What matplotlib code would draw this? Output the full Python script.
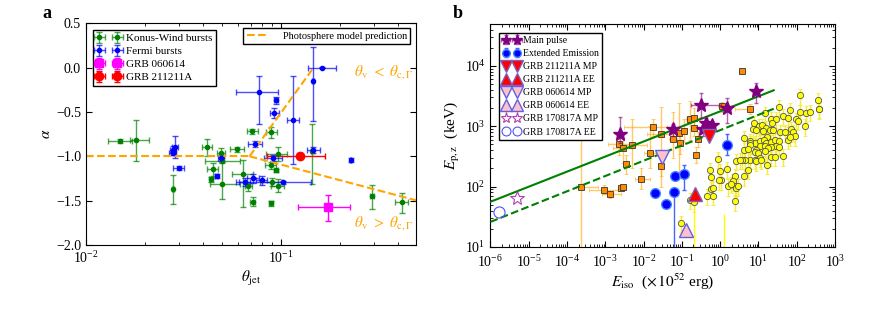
import numpy as np
import matplotlib
matplotlib.use("Agg")
import matplotlib.pyplot as plt
from matplotlib.ticker import LogLocator, MultipleLocator, NullFormatter

plt.rcParams['font.family'] = ['Liberation Serif', 'DejaVu Serif']
plt.rcParams['mathtext.fontset'] = 'stix'
plt.rcParams['xtick.direction'] = 'in'
plt.rcParams['ytick.direction'] = 'in'
plt.rcParams['xtick.top'] = True
plt.rcParams['ytick.right'] = True

# ---------------- panel a data ----------------
# Konus-Wind bursts: theta, alpha, theta err (lo, hi), alpha err (lo, hi)
kw_theta = [0.0149, 0.0180, 0.0279, 0.0416, 0.049, 0.0597, 0.0713, 0.0889, 0.0446, 0.0497,
            0.0439, 0.0641, 0.068, 0.0716, 0.0885, 0.0962, 0.0885, 0.0943, 0.0896, 0.0962,
            0.145, 0.2937, 0.419, 0.050]
kw_alpha = [-0.83, -0.82, -1.37, -0.90, -0.96, -0.92, -0.72, -0.73, -1.14, -1.31,
            -1.26, -1.20, -1.34, -1.51, -1.53, -0.97, -1.10, -1.16, -1.29, -1.33,
            -0.94, -1.45, -1.52, -1.05]
kw_theta_lo = [0.0019, 0.0011, 0.0003, 0.0022, 0.0022, 0.005, 0.004, 0.005, 0.0027, 0.0064,
               0.001, 0.0083, 0.003, 0.002, 0.002, 0.012, 0.006, 0.002, 0.012, 0.007,
               0.003, 0.006, 0.037, 0.009]
kw_theta_hi = [0.0023, 0.0031, 0.0003, 0.0025, 0.0026, 0.005, 0.005, 0.006, 0.0031, 0.012,
               0.001, 0.008, 0.003, 0.002, 0.002, 0.011, 0.006, 0.002, 0.012, 0.008,
               0.003, 0.006, 0.030, 0.012]
kw_alpha_lo = [0.02, 0.23, 0.17, 0.10, 0.05, 0.03, 0.03, 0.06, 0.08, 0.17,
               0.03, 0.37, 0.05, 0.05, 0.03, 0.08, 0.04, 0.02, 0.05, 0.07,
               0.37, 0.14, 0.12, 0.03]
kw_alpha_hi = [0.02, 0.23, 0.16, 0.09, 0.05, 0.03, 0.03, 0.06, 0.07, 0.25,
               0.03, 0.16, 0.04, 0.05, 0.03, 0.07, 0.04, 0.02, 0.05, 0.07,
               0.30, 0.13, 0.11, 0.03]

# Fermi bursts
fe_theta = [0.028, 0.0285, 0.0278, 0.030, 0.0493, 0.0468, 0.0736, 0.0775, 0.0943, 0.0924,
            0.1618, 0.146, 0.1148, 0.146, 0.0912, 0.102, 0.0652, 0.0719, 0.0795, 0.2274]
fe_alpha = [-0.93, -0.90, -0.96, -1.13, -1.02, -1.22, -0.86, -0.28, -0.37, -0.51,
            0.0, -0.15, -0.59, -0.93, -1.02, -1.295, -1.29, -1.25, -1.27, -1.04]
fe_theta_lo = [0.001, 0.001, 0.001, 0.002, 0.002, 0.001, 0.006, 0.0186, 0.002, 0.005,
               0.025, 0.002, 0.008, 0.010, 0.009, 0.043, 0.004, 0.005, 0.005, 0.002]
fe_theta_hi = [0.001, 0.001, 0.001, 0.002, 0.002, 0.001, 0.0064, 0.019, 0.002, 0.005,
               0.030, 0.002, 0.009, 0.013, 0.010, 0.041, 0.004, 0.005, 0.005, 0.002]
fe_alpha_lo = [0.05, 0.12, 0.03, 0.02, 0.03, 0.02, 0.03, 0.36, 0.04, 0.06,
               0.01, 0.45, 0.50, 0.03, 0.03, 0.02, 0.04, 0.05, 0.05, 0.02]
fe_alpha_hi = [0.05, 0.13, 0.03, 0.02, 0.03, 0.02, 0.03, 0.18, 0.04, 0.05,
               0.01, 0.38, 0.50, 0.03, 0.03, 0.02, 0.04, 0.05, 0.05, 0.02]

grb060614_theta, grb060614_alpha = [0.175], [-1.577]
grb060614_theta_err = [[0.053], [0.052]]
grb060614_alpha_err = [[0.147], [0.143]]
grb211211_theta, grb211211_alpha = [0.125], [-1.0]
grb211211_theta_err = [[0.0405], [0.0438]]
grb211211_alpha_err = [[0.03], [0.03]]

# photosphere model prediction
photo_flat_theta, photo_flat_alpha = [0.01, 0.069], [-1.0, -1.0]
photo_up_theta, photo_up_alpha = [0.069, 0.147], [-1.0, 0.0]
photo_down_theta, photo_down_alpha = [0.069, 0.5], [-1.0, -1.5]

# ---------------- panel b data ----------------
mp_E = [2.35e-3, 0.058, 0.31, 0.436, 0.356, 0.625, 1.51, 8.8]
mp_Ep = [755, 885, 2245, 1143, 885, 1030, 1976, 3840]
mp_E_lo = [2.2e-3, 0.05, 0.177, 0.39, 0.32, 0.56, 1.2, 7.5]
mp_E_hi = [2.5e-3, 0.066, 1.08, 0.49, 0.40, 0.70, 1.9, 10.0]
mp_Ep_lo = [531, 700, 1380, 950, 700, 850, 1120, 2460]
mp_Ep_hi = [1435, 1100, 3600, 1350, 1050, 1200, 2950, 5280]

ee_E = [0.0195, 0.0394, 0.0622, 0.0676, 0.1135, 1.51]
ee_Ep = [78, 52, 80, 152, 162, 498]
ee_Ep_lo = [78, 52, 8, 152, 89, 340]
ee_Ep_hi = [78, 52, 80, 152, 231, 731]

sq_E = [2.38e-4, 9.3e-4, 1.33e-3, 2.63e-3, 2.97e-3, 2.3e-3, 2.9e-3, 3.4e-3, 5.1e-3, 8.75e-3,
        0.0151, 0.018, 0.0292, 0.0292, 0.0588, 0.0826, 0.0914, 0.114, 0.163, 0.208,
        0.204, 0.23, 0.27, 1.1, 3.65, 6.0]
sq_Ep = [97, 88, 74, 95, 97, 500, 432, 237, 485, 134,
         357, 955, 740, 223, 611, 770, 537, 830, 1315, 1365,
         931, 335, 611, 2130, 8380, 1928]
sq_E_lo = [1.7e-4, 3.8e-4, 8e-4, 2.3e-3, 2.6e-3, 1.2e-3, 1.6e-3, 2.9e-3, 2.5e-3, 6e-3,
           0.010, 0.003, 0.012, 0.026, 0.045, 0.07, 0.08, 0.10, 0.13, 0.16,
           0.17, 0.21, 0.24, 0.9, 3.65, 2.4]
sq_E_hi = [6.3e-4, 2.1e-3, 2.5e-3, 3.0e-3, 3.4e-3, 5e-3, 5e-3, 4e-3, 1.2e-2, 1.5e-2,
           0.025, 0.04, 0.06, 0.033, 0.075, 0.10, 0.105, 0.13, 0.2, 0.3,
           0.24, 0.25, 0.30, 1.3, 3.65, 6.5]
sq_Ep_lo = [5, 75, 64, 88, 90, 330, 250, 160, 200, 90,
            200, 700, 100, 150, 300, 170, 350, 550, 600, 900,
            700, 250, 450, 1700, 8380, 1600]
sq_Ep_hi = [900, 105, 85, 105, 107, 780, 650, 330, 1300, 200,
            1000, 1300, 2100, 320, 1700, 2450, 800, 1300, 2600, 2000,
            1200, 450, 800, 2500, 8380, 2300]

yel_E = [0.097, 0.160, 0.204, 0.463, 0.652, 0.566, 0.652, 0.555, 0.589, 0.879,
         0.97, 1.07, 0.93, 1.54, 1.60,
         120, 360, 382, 34.5, 65.6, 120, 179, 218, 15.2, 21.8,
         28.2, 44, 59.3, 94, 108, 23.1, 7.5, 10.4, 12.7, 16.1,
         7.2, 8.5, 13.2, 19.7, 24, 36, 48.5, 72.5, 80, 88.5,
         59.3, 65.6, 4.13, 6.17, 8.0, 10.8, 5.9, 16.8, 13.7, 16.1,
         21.8, 26.6, 34.5, 29.4, 20.9, 34.5, 6.17, 10.8, 14.6, 17.8,
         8.8, 4.13, 5.36, 8.0, 9.8, 14.6, 11.2, 6.17, 8.0, 4.56,
         3.81, 2.65, 3.24, 8.8, 11.9, 21.8, 26.6, 44, 16.8, 5.36,
         4.13, 2.4, 2.17, 2.4, 1.97, 2.65, 2.4, 3.0, 161, 374]
yel_Ep = [25, 60.5, 54.6, 70.5, 70.5, 91, 94.6, 191, 144, 287,
          184, 127, 127, 196, 101,
          3250, 2690, 1900, 2100, 1850, 1740, 1670, 1720, 1630, 1330,
          1330, 1470, 1380, 1300, 1220, 1140, 1140, 1000, 1030, 942,
          906, 851, 830, 861, 883, 798, 798, 906, 798, 684,
          603, 667, 643, 565, 530, 565, 530, 667, 603, 530,
          543, 587, 565, 479, 455, 455, 498, 479, 467, 438,
          410, 400, 422, 371, 361, 385, 298, 280, 280, 280,
          280, 269, 280, 262, 280, 310, 310, 318, 231, 191,
          148, 148, 122, 101, 112, 95, 56.7, 101, 1000, 1930]
yel_err_frac = 0.3
yel_lim_E = [0.204, 1.24]
yel_lim_top = [54.6, 35]

line_E = [1e-6, 25]
line_Ep_solid = [56, 3950]
line_Ep_dashed = [26, 1950]

special = {
    'GRB 211211A MP': ([0.51], [684]),
    'GRB 211211A EE': ([0.225], [76]),
    'GRB 060614 MP': ([0.031], [310]),
    'GRB 060614 EE': ([0.126], [19]),
    'GRB 170817A MP': ([4.9e-6], [65]),
    'GRB 170817A EE': ([1.65e-6], [38]),
}

fig = plt.figure(figsize=(8.79, 3.09), dpi=100)

# ================= panel a =================
ax1 = fig.add_axes([0.0978, 0.207, 0.375, 0.718])
eb_kw = dict(capsize=2, elinewidth=1, capthick=1, ms=3, lw=0)
h_kw = ax1.errorbar(kw_theta, kw_alpha, xerr=[kw_theta_lo, kw_theta_hi],
                    yerr=[kw_alpha_lo, kw_alpha_hi], fmt='o', color='green',
                    ecolor=(0.0, 0.5, 0.0, 0.7), **eb_kw)
h_fe = ax1.errorbar(fe_theta, fe_alpha, xerr=[fe_theta_lo, fe_theta_hi],
                    yerr=[fe_alpha_lo, fe_alpha_hi], fmt='o', color='blue',
                    ecolor=(0.0, 0.0, 1.0, 0.7), **eb_kw)
h_06 = ax1.errorbar(grb060614_theta, grb060614_alpha, xerr=grb060614_theta_err,
                    yerr=grb060614_alpha_err, fmt='s', color='magenta', capsize=2,
                    elinewidth=1, ms=6)
h_21 = ax1.errorbar(grb211211_theta, grb211211_alpha, xerr=grb211211_theta_err,
                    yerr=grb211211_alpha_err, fmt='o', color='red', capsize=2,
                    elinewidth=1, ms=6)
ph, = ax1.plot(photo_flat_theta, photo_flat_alpha, '--', color='orange', lw=1.5,
               label='Photosphere model prediction')
ax1.plot(photo_up_theta, photo_up_alpha, '--', color='orange', lw=1.5)
ax1.plot(photo_down_theta, photo_down_alpha, '--', color='orange', lw=1.5)

ax1.text(0.236, -0.05, r'$\theta_{\rm v}\ <\ \theta_{\rm c,\Gamma}$', color='orange',
         fontsize=11, ha='left', va='center')
ax1.text(0.236, -1.75, r'$\theta_{\rm v}\ >\ \theta_{\rm c,\Gamma}$', color='orange',
         fontsize=11, ha='left', va='center')

ax1.set_xscale('log')
ax1.set_xlim(0.01, 0.49)
ax1.set_ylim(-2.0, 0.5)
ax1.yaxis.set_major_locator(MultipleLocator(0.5))
ax1.tick_params(which='major', length=4, labelsize=10)
ax1.tick_params(which='minor', length=2)
ax1.tick_params(axis='x', pad=4)
ax1.set_xlabel(r'$\theta_{\rm jet}$', fontsize=11, labelpad=2)
ax1.set_ylabel(r'$\alpha$', fontsize=11, labelpad=2)

leg1 = ax1.legend([h_kw, h_fe, h_06, h_21],
                  ['Konus-Wind bursts', 'Fermi bursts', 'GRB 060614', 'GRB 211211A'],
                  loc='upper left', numpoints=2, fontsize=8, fancybox=False,
                  edgecolor='black', framealpha=1, borderpad=0.3, labelspacing=0.3,
                  handletextpad=0.5, borderaxespad=0.6, handlelength=2.2)
leg1.get_frame().set_linewidth(1.0)
ax1.add_artist(leg1)
leg2 = ax1.legend([ph], ['Photosphere model prediction'], loc='upper right', fontsize=7.5,
                  fancybox=False, edgecolor='black', framealpha=1, borderpad=0.3,
                  handletextpad=1.5, borderaxespad=0.5)
leg2.get_frame().set_linewidth(1.0)

# ================= panel b =================
ax2 = fig.add_axes([0.558, 0.201, 0.392, 0.722])

yel_E_arr = np.array(yel_E)
yel_Ep_arr = np.array(yel_Ep)
ax2.errorbar(yel_E_arr, yel_Ep_arr, yerr=yel_err_frac * yel_Ep_arr, fmt='o',
             mfc='yellow', mec='#555555', mew=0.6, ms=4.5, ecolor='#f5ee30',
             elinewidth=1, capsize=1.5, zorder=2)
ax2.vlines(yel_lim_E, 8, yel_lim_top, color='yellow', lw=1, zorder=1)

sq_E_arr, sq_Ep_arr = np.array(sq_E), np.array(sq_Ep)
ax2.errorbar(sq_E_arr, sq_Ep_arr,
             xerr=[sq_E_arr - np.array(sq_E_lo), np.array(sq_E_hi) - sq_E_arr],
             yerr=[sq_Ep_arr - np.array(sq_Ep_lo), np.array(sq_Ep_hi) - sq_Ep_arr],
             fmt='s', mfc='darkorange', mec='#333333', mew=0.6, ms=4.5,
             ecolor=(1.0, 0.65, 0.0, 0.6), elinewidth=1, capsize=1.5, zorder=3)

mp_E_arr, mp_Ep_arr = np.array(mp_E), np.array(mp_Ep)
h_mp = ax2.errorbar(mp_E_arr, mp_Ep_arr,
                    xerr=[mp_E_arr - np.array(mp_E_lo), np.array(mp_E_hi) - mp_E_arr],
                    yerr=[mp_Ep_arr - np.array(mp_Ep_lo), np.array(mp_Ep_hi) - mp_Ep_arr],
                    fmt='*', color='purple', ms=10, ecolor=(0.5, 0.0, 0.5, 0.6),
                    elinewidth=1, capsize=1.5, zorder=5)

ee_E_arr, ee_Ep_arr = np.array(ee_E), np.array(ee_Ep)
h_ee = ax2.errorbar(ee_E_arr, ee_Ep_arr,
                    yerr=[ee_Ep_arr - np.array(ee_Ep_lo), np.array(ee_Ep_hi) - ee_Ep_arr],
                    fmt='o', mfc='blue', mec='#4488ff', ms=7, ecolor='#4466ff',
                    elinewidth=1, capsize=1.5, zorder=4)

ax2.plot(line_E, line_Ep_solid, '-', color='green', lw=1.5, zorder=4)
ax2.plot(line_E, line_Ep_dashed, '--', color='green', lw=1.5, zorder=4)

s_style = {
    'GRB 211211A MP': dict(marker='v', mfc='red', mec='#8060c0', ms=10),
    'GRB 211211A EE': dict(marker='^', mfc='red', mec='#8060c0', ms=10),
    'GRB 060614 MP': dict(marker='v', mfc='pink', mec='#6060e0', ms=10),
    'GRB 060614 EE': dict(marker='^', mfc='pink', mec='#6060e0', ms=10),
    'GRB 170817A MP': dict(marker='*', mfc='none', mec='#b040b0', ms=10, mew=0.8),
    'GRB 170817A EE': dict(marker='o', mfc='none', mec='#5050ff', ms=8, mew=0.8),
}
s_handles = []
for name, (xs, ys) in special.items():
    h, = ax2.plot(xs, ys, ls='none', zorder=6, **s_style[name])
    s_handles.append(h)

ax2.set_xscale('log')
ax2.set_yscale('log')
ax2.set_xlim(1e-6, 1e3)
ax2.set_ylim(10, 5e4)
ax2.xaxis.set_major_locator(LogLocator(base=10, numticks=20))
ax2.xaxis.set_minor_locator(LogLocator(base=10, subs=np.arange(2, 10), numticks=20))
ax2.xaxis.set_minor_formatter(NullFormatter())
ax2.yaxis.set_major_locator(LogLocator(base=10, numticks=20))
ax2.yaxis.set_minor_locator(LogLocator(base=10, subs=np.arange(2, 10), numticks=20))
ax2.yaxis.set_minor_formatter(NullFormatter())
ax2.tick_params(which='major', length=4, labelsize=10)
ax2.tick_params(which='minor', length=2)
ax2.tick_params(axis='x', pad=5)
ax2.set_xlabel(r'$E_{\rm iso}$  ($\times\,10^{52}$ erg)', fontsize=11, labelpad=1)
ax2.set_ylabel(r'$E_{\rm p,z}$  (keV)', fontsize=11, labelpad=2)

leg3 = ax2.legend([h_mp, h_ee] + s_handles,
                  ['Main pulse', 'Extended Emission'] + list(special.keys()),
                  loc='upper left', numpoints=2, fontsize=7, fancybox=False,
                  edgecolor='black', framealpha=1, borderpad=0.35, labelspacing=0.42,
                  handletextpad=0.3, borderaxespad=0.9, handlelength=1.8,
                  markerscale=0.8)
leg3.get_frame().set_linewidth(1.0)

fig.text(0.048, 0.985, 'a', fontsize=13, fontweight='bold', va='top')
fig.text(0.515, 0.985, 'b', fontsize=13, fontweight='bold', va='top')

fig.savefig('out.png', dpi=100)
